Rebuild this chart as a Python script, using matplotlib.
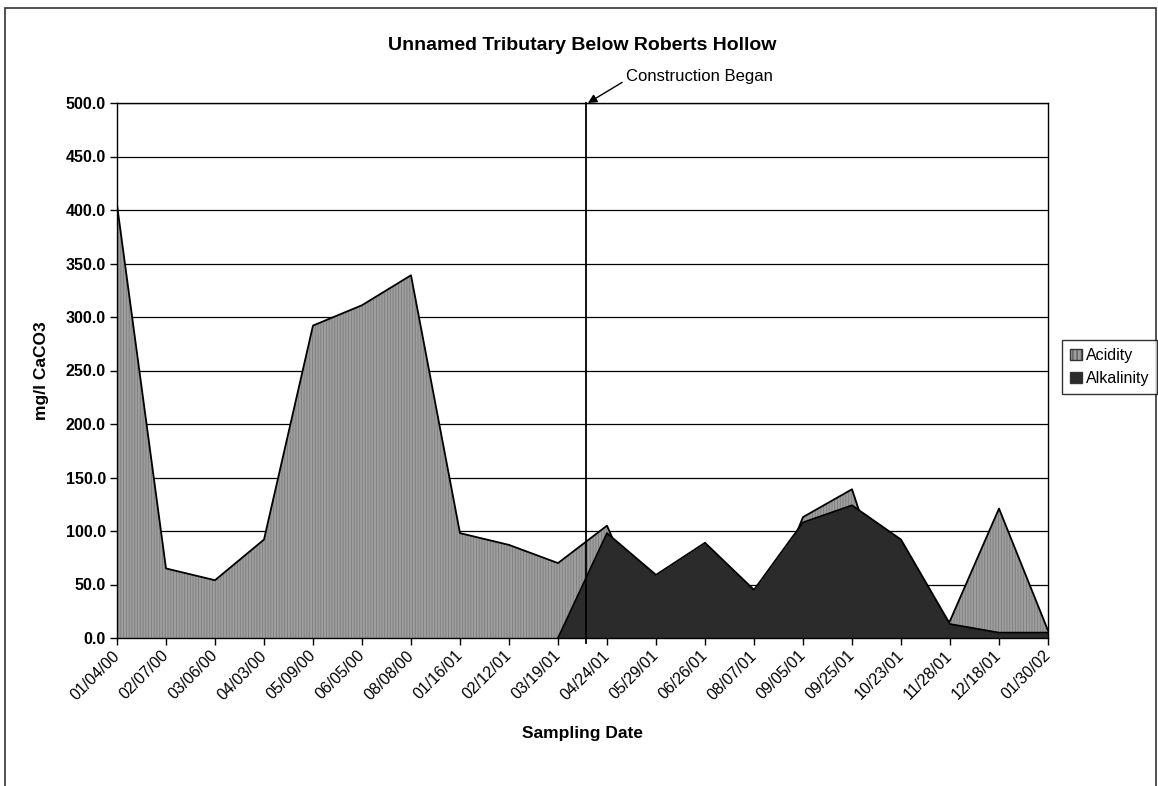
import numpy as np
import matplotlib
matplotlib.use("Agg")
import matplotlib.pyplot as plt
from matplotlib.patches import Rectangle, Patch

plt.rcParams["font.family"] = ["Liberation Sans", "DejaVu Sans"]
plt.rcParams["hatch.linewidth"] = 0.6

# Sampling dates (category axis)
dates = ["01/04/00", "02/07/00", "03/06/00", "04/03/00", "05/09/00",
         "06/05/00", "08/08/00", "01/16/01", "02/12/01", "03/19/01",
         "04/24/01", "05/29/01", "06/26/01", "08/07/01", "09/05/01",
         "09/25/01", "10/23/01", "11/28/01", "12/18/01", "01/30/02"]

# mg/l as CaCO3
acidity = [405, 65, 54, 92, 292, 311, 339, 98, 87, 70,
           105, 0, 0, 0, 113, 139, 0, 16, 121, 7]
alkalinity = [np.nan, np.nan, np.nan, np.nan, np.nan, np.nan, np.nan, np.nan, np.nan, 0,
              98, 59, 89, 45, 108, 124, 92, 13, 5, 5]

yticks = [0, 50, 100, 150, 200, 250, 300, 350, 400, 450, 500]
construction_pos = 9.57  # between 03/19/01 and 04/24/01

W, H = 1158, 786
fig = plt.figure(figsize=(W / 100, H / 100), dpi=100)

# outer chart-area border
fig.patches.append(Rectangle((5 / W, -0.01), 1151 / W, (H - 8) / H + 0.01,
                             transform=fig.transFigure, fill=False,
                             edgecolor="#333333", linewidth=1.2))

ax = fig.add_axes([117 / W, 1 - 638 / H, (1048 - 117) / W, (638 - 103) / H])
x = np.arange(len(dates))
acid = np.array(acidity, dtype=float)
alk = np.array(alkalinity, dtype=float)

acid_face = "#9e9e9e"
alk_face = "#2b2b2b"

ax.fill_between(x, 0, acid, facecolor=acid_face, edgecolor="#7e7e7e",
                hatch="||||||", linewidth=0, zorder=2)
ax.plot(x, acid, color="black", linewidth=1.3, zorder=3)

mask = ~np.isnan(alk)
ax.fill_between(x[mask], 0, alk[mask], facecolor=alk_face, edgecolor=alk_face,
                linewidth=0, zorder=4)
ax.plot(x[mask], alk[mask], color="black", linewidth=1.3, zorder=5)

ax.set_xlim(0, len(dates) - 1)
ax.set_ylim(0, 500)
ax.set_yticks(yticks)
ax.set_yticklabels([f"{v:.1f}" for v in yticks], fontsize=11.5, fontweight="bold")
ax.set_xticks(x)
ax.set_xticklabels(dates, rotation=45, ha="right", va="center",
                   rotation_mode="anchor", fontsize=11.5)
ax.tick_params(axis="x", length=5, width=1, pad=6, direction="out")
ax.tick_params(axis="y", length=5, width=1, pad=3, direction="out")

ax.yaxis.grid(True, color="black", linewidth=0.9)
ax.set_axisbelow(True)
for s in ax.spines.values():
    s.set_linewidth(1.0)
    s.set_color("black")
    s.set_zorder(6)

ax.set_title("Unnamed Tributary Below Roberts Hollow", fontsize=14,
             fontweight="bold", pad=38)
ax.set_xlabel("Sampling Date", fontsize=12.5, fontweight="bold", labelpad=17)
ax.set_ylabel("mg/l CaCO3", fontsize=12.5, fontweight="bold", labelpad=12)

# construction marker
ax.axvline(construction_pos, ymin=-0.01, ymax=1, color="black",
           linewidth=1.3, zorder=7, clip_on=False)
ax.annotate("Construction Began", xy=(construction_pos + 0.04, 500),
            xytext=(construction_pos + 0.82, 525), textcoords="data",
            fontsize=12, ha="left", va="center", annotation_clip=False,
            arrowprops=dict(arrowstyle="-|>", color="black", lw=1.0,
                            mutation_scale=13, shrinkA=1, shrinkB=0,
                            relpos=(0.0, 0.25)))

handles = [Patch(facecolor=acid_face, edgecolor="#333333", hatch="||||", label="Acidity"),
           Patch(facecolor=alk_face, edgecolor="#333333", label="Alkalinity")]
leg = fig.legend(handles=handles, loc="upper left",
                 bbox_to_anchor=(1062 / W, 1 - 340 / H), fontsize=11.5,
                 frameon=True, fancybox=False, edgecolor="black",
                 handlelength=0.75, handleheight=0.75, handletextpad=0.25,
                 borderpad=0.5, labelspacing=0.5, borderaxespad=0)
leg.get_frame().set_linewidth(1.0)

fig.savefig("out.png", dpi=100)
